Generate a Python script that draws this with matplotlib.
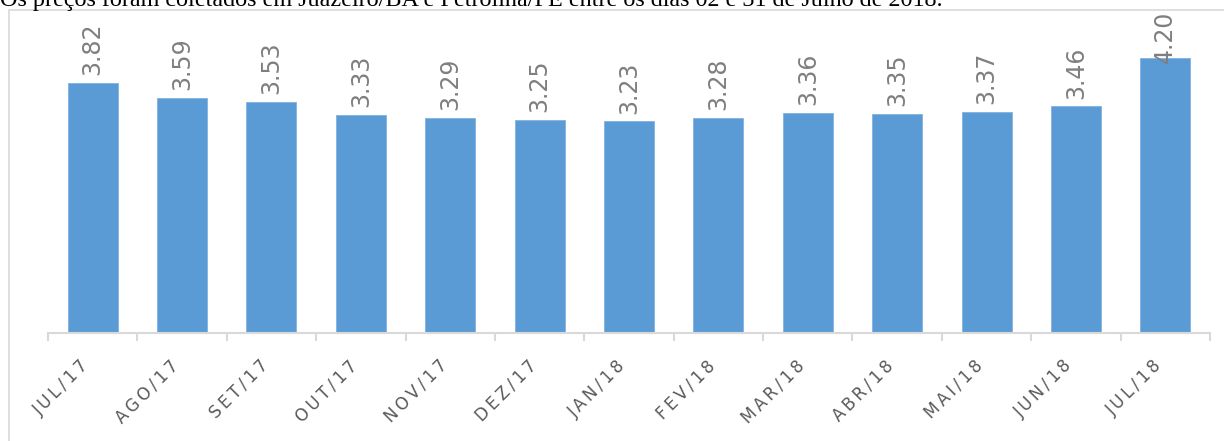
import matplotlib.pyplot as plt
from matplotlib.patches import Rectangle

# dados
meses = ['JUL/17', 'AGO/17', 'SET/17', 'OUT/17', 'NOV/17', 'DEZ/17', 'JAN/18',
         'FEV/18', 'MAR/18', 'ABR/18', 'MAI/18', 'JUN/18', 'JUL/18']
precos = [3.82, 3.59, 3.53, 3.33, 3.29, 3.25, 3.23, 3.28, 3.36, 3.35, 3.37, 3.46, 4.20]

W, H = 1224, 441
fig = plt.figure(figsize=(W / 100, H / 100), dpi=100)

# moldura do gráfico
fig.patches.append(Rectangle((9 / W, -0.1), 1.2, 1.1 - 9.5 / H, transform=fig.transFigure,
                             fill=False, edgecolor='#d9d9d9', lw=1.2))

fig.text(0, 1 - 6 / H, 'Os preços foram coletados em Juazeiro/BA e Petrolina/PE entre os dias 02 e 31 de Julho de 2018.',
         family='Liberation Serif', fontsize=17.4, va='baseline', ha='left', color='black')

ymax = 4.6
px_per_unit = 65.5
ax = fig.add_axes([48 / W, (H - 333) / H, (1210 - 48) / W, ymax * px_per_unit / H])
ax.set_facecolor('none')

x = range(len(meses))
ax.bar(x, precos, width=0.56, color='#5b9bd5', edgecolor='#7fb2e0', lw=0.6, zorder=2)

for i, v in enumerate(precos):
    ax.text(i, min(v + 0.12, 4.12), f'{v:.2f}', rotation=90, ha='center', va='bottom',
            fontsize=17, color='#7f7f7f', clip_on=False)

ax.set_xlim(-0.5, len(meses) - 0.5)
ax.set_ylim(0, ymax)

for s in ['top', 'right', 'left']:
    ax.spines[s].set_visible(False)
ax.spines['bottom'].set_color('#d9d9d9')
ax.spines['bottom'].set_linewidth(1.5)

ax.set_yticks([])
ax.set_xticks(list(x))
ax.set_xticklabels(['\u2009'.join(m) for m in meses], rotation=45, ha='right', va='top',
                   fontsize=12, color='#595959')
ax.tick_params(axis='x', which='major', length=0, pad=17)
ax.set_xticks([i - 0.5 for i in range(len(meses) + 1)], minor=True)
ax.tick_params(axis='x', which='minor', length=6, width=1.5, color='#d9d9d9')

fig.savefig('out.png', dpi=100)
